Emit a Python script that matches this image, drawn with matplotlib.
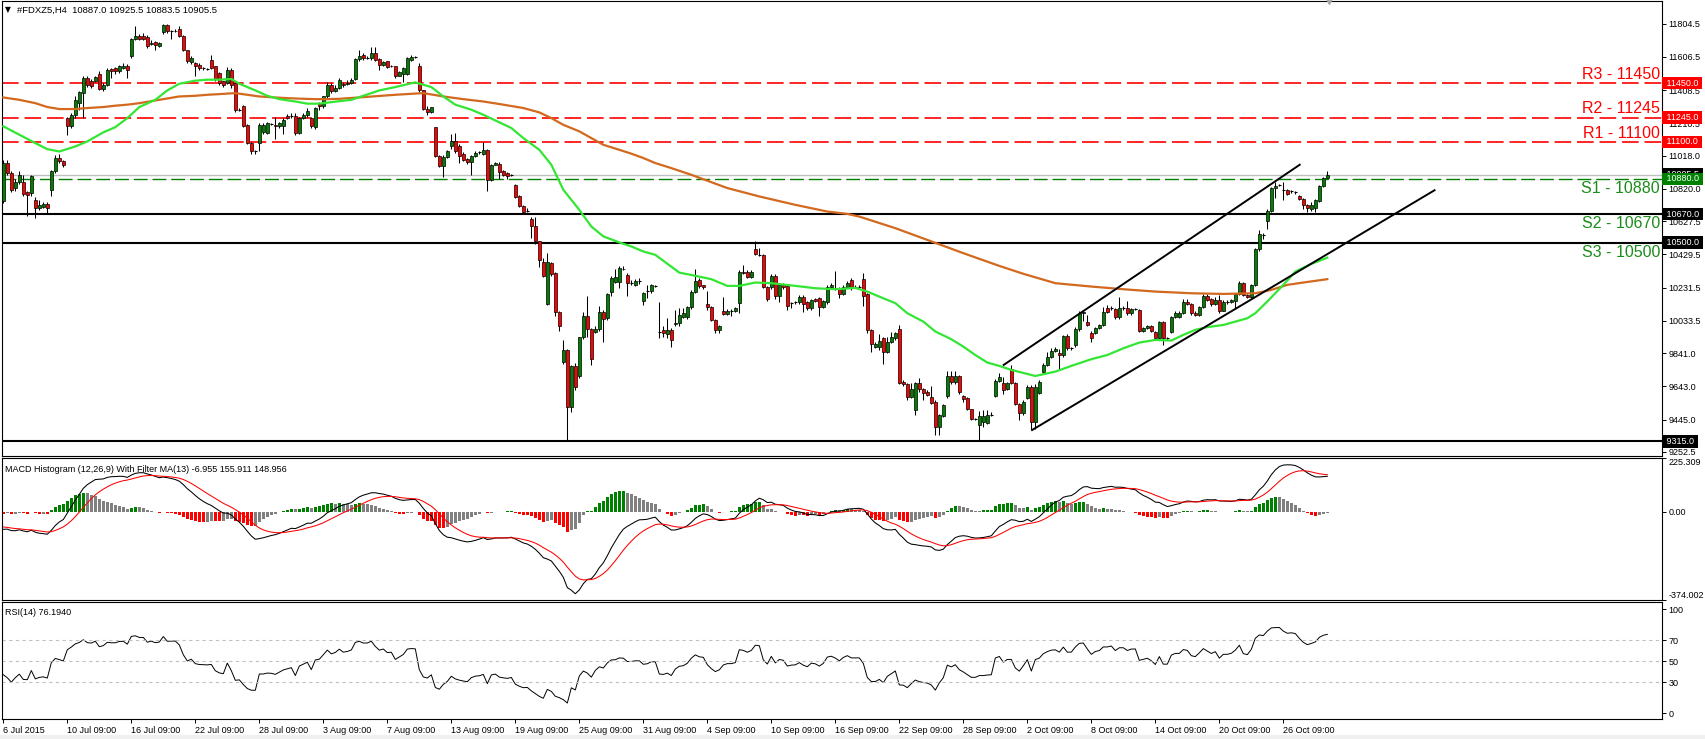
import numpy as np
import matplotlib
matplotlib.use("Agg")
from matplotlib import pyplot as plt
from matplotlib import transforms
from matplotlib.patches import Rectangle

plt.rcParams["font.family"] = ["Liberation Sans", "DejaVu Sans"]

# ---------------- data (4 bars per trading day) ----------------
opens = [
    10745, 10974, 10914, 10825, 10864, 10860, 10799, 10795, 10755, 10705, 10715, 10731,
    10815, 10924, 11003, 10984, 11242, 11192, 11262, 11330, 11390, 11481, 11461, 11461,
    11507, 11415, 11441, 11534, 11540, 11520, 11540, 11554, 11610, 11713, 11729, 11729,
    11725, 11685, 11693, 11674, 11753, 11799, 11763, 11760, 11773, 11733, 11646, 11574,
    11570, 11560, 11540, 11538, 11590, 11550, 11511, 11461, 11451, 11526, 11451, 11290,
    11316, 11203, 11093, 11045, 11093, 11157, 11153, 11210, 11202, 11192, 11192, 11256,
    11250, 11252, 11153, 11242, 11262, 11242, 11189, 11328, 11312, 11371, 11441, 11401,
    11421, 11445, 11448, 11451, 11475, 11594, 11620, 11602, 11600, 11630, 11594, 11560,
    11580, 11554, 11550, 11495, 11507, 11507, 11590, 11606, 11554, 11407, 11296, 11276,
    11189, 11018, 10958, 11010, 11073, 11103, 11073, 11030, 10998, 10978, 11018, 11035,
    11030, 11049, 10874, 10964, 10970, 10924, 10914, 10900, 10845, 10775, 10720, 10688,
    10640, 10600, 10507, 10387, 10135, 10377, 10318, 10085, 9791, 9861, 9519, 9765,
    9702, 9936, 10063, 9984, 9970, 9984, 10089, 10049, 10203, 10268, 10268, 10345,
    10308, 10260, 10248, 10272, 10149, 10207, 10209, 10246, 9972, 9980, 9954, 9980,
    10015, 10019, 10059, 10059, 10119, 10208, 10278, 10248, 10135, 10115, 10039, 9980,
    10093, 10075, 10093, 10091, 10139, 10327, 10327, 10294, 10461, 10429, 10425, 10234,
    10234, 10302, 10183, 10248, 10242, 10137, 10141, 10143, 10178, 10143, 10109, 10163,
    10168, 10115, 10143, 10238, 10230, 10228, 10194, 10238, 10278, 10240, 10236, 10282,
    10194, 9980, 9876, 9876, 9930, 9850, 9910, 9930, 9984, 9672, 9658, 9582,
    9503, 9665, 9626, 9612, 9582, 9552, 9399, 9467, 9586, 9705, 9672, 9705,
    9586, 9572, 9507, 9449, 9413, 9433, 9427, 9473, 9586, 9677, 9662, 9626,
    9745, 9665, 9538, 9483, 9572, 9642, 9433, 9602, 9731, 9771, 9821, 9856,
    9840, 9830, 9944, 9872, 9890, 9984, 10079, 10029, 9960, 9960, 9990, 10009,
    10109, 10107, 10103, 10055, 10107, 10109, 10079, 10103, 10099, 9976, 9990, 10004,
    9970, 9930, 10029, 9932, 9970, 10055, 10059, 10083, 10143, 10135, 10083, 10069,
    10119, 10182, 10163, 10135, 10159, 10095, 10141, 10143, 10149, 10194, 10258, 10188,
    10178, 10248, 10461, 10548, 10626, 10691, 10824, 10842, 10813, 10811, 10803, 10801,
    10779, 10759, 10725, 10699, 10705, 10745, 10838, 10887.0,
]
highs = [
    10994, 10990, 10925, 10880, 10925, 10905, 10810, 10905, 10770, 10755, 10740, 10740,
    10935, 11025, 11030, 10990, 11250, 11275, 11372, 11405, 11490, 11490, 11475, 11495,
    11520, 11450, 11540, 11540, 11545, 11560, 11570, 11565, 11720, 11789, 11745, 11750,
    11735, 11710, 11700, 11695, 11805, 11805, 11770, 11775, 11790, 11740, 11650, 11610,
    11575, 11570, 11545, 11540, 11620, 11555, 11515, 11465, 11545, 11540, 11460, 11300,
    11320, 11205, 11100, 11050, 11210, 11210, 11220, 11215, 11250, 11220, 11240, 11265,
    11270, 11270, 11250, 11275, 11300, 11250, 11310, 11340, 11375, 11460, 11450, 11440,
    11480, 11460, 11470, 11480, 11600, 11650, 11630, 11610, 11665, 11665, 11600, 11580,
    11585, 11560, 11555, 11520, 11545, 11605, 11620, 11615, 11570, 11410, 11315, 11310,
    11190, 11020, 11020, 11050, 11145, 11155, 11085, 11040, 11005, 11025, 11045, 11045,
    11100, 11055, 10970, 10980, 10980, 10930, 10920, 10910, 10850, 10785, 10725, 10705,
    10650, 10650, 10510, 10410, 10440, 10385, 10325, 10090, 9920, 9865, 9770, 9785,
    9940, 10085, 10183, 9990, 10000, 10120, 10100, 10200, 10300, 10345, 10360, 10360,
    10320, 10275, 10285, 10290, 10205, 10250, 10255, 10250, 10145, 10000, 10050, 9990,
    10100, 10109, 10110, 10125, 10215, 10345, 10290, 10250, 10210, 10125, 10045, 10010,
    10175, 10105, 10105, 10115, 10335, 10365, 10335, 10335, 10510, 10470, 10430, 10240,
    10310, 10310, 10255, 10260, 10250, 10145, 10150, 10185, 10190, 10150, 10165, 10170,
    10175, 10155, 10245, 10260, 10330, 10235, 10245, 10270, 10290, 10250, 10245, 10320,
    10200, 9985, 9910, 9955, 9940, 9935, 9965, 9970, 10010, 9680, 9665, 9665,
    9670, 9690, 9635, 9620, 9645, 9560, 9480, 9540, 9735, 9735, 9735, 9710,
    9590, 9580, 9510, 9455, 9495, 9500, 9500, 9490, 9685, 9720, 9700, 9670,
    9770, 9670, 9545, 9560, 9650, 9650, 9655, 9680, 9780, 9845, 9870, 9880,
    9865, 9950, 9955, 9880, 9995, 10090, 10095, 10070, 9975, 9995, 10015, 10115,
    10130, 10120, 10110, 10175, 10120, 10150, 10110, 10110, 10105, 9995, 10010, 10010,
    9975, 10035, 10035, 9940, 10060, 10090, 10095, 10165, 10165, 10140, 10090, 10125,
    10195, 10195, 10170, 10175, 10190, 10160, 10155, 10165, 10200, 10270, 10265, 10195,
    10255, 10470, 10575, 10560, 10700, 10830, 10864, 10850, 10860, 10820, 10815, 10810,
    10785, 10765, 10730, 10740, 10760, 10845, 10890, 10925.5,
]
lows = [
    10735, 10900, 10800, 10810, 10850, 10780, 10660, 10780, 10646, 10695, 10705, 10675,
    10775, 10915, 10975, 10950, 11143, 11185, 11240, 11290, 11245, 11430, 11420, 11455,
    11410, 11405, 11435, 11480, 11505, 11510, 11535, 11480, 11600, 11705, 11705, 11705,
    11660, 11680, 11645, 11665, 11745, 11750, 11715, 11755, 11725, 11640, 11570, 11565,
    11495, 11530, 11530, 11530, 11535, 11465, 11440, 11430, 11445, 11420, 11280, 11285,
    11190, 11085, 11030, 11030, 11043, 11150, 11145, 11200, 11115, 11185, 11150, 11235,
    11245, 11140, 11145, 11235, 11250, 11185, 11180, 11290, 11300, 11360, 11390, 11395,
    11415, 11430, 11440, 11445, 11470, 11585, 11590, 11595, 11590, 11585, 11530, 11555,
    11540, 11545, 11480, 11490, 11455, 11500, 11580, 11600, 11400, 11290, 11258, 11270,
    11010, 10950, 10890, 11005, 11060, 11035, 10975, 10985, 10970, 10905, 11010, 11030,
    11025, 10805, 10870, 10960, 10880, 10895, 10880, 10895, 10765, 10715, 10675, 10680,
    10525, 10490, 10355, 10295, 10130, 10300, 10065, 9975, 9775, 9315, 9490, 9620,
    9690, 9925, 9940, 9770, 9960, 9975, 9910, 10040, 10180, 10260, 10230, 10335,
    10180, 10245, 10240, 10255, 10130, 10170, 10200, 10235, 9930, 9940, 9930, 9880,
    10005, 10000, 10050, 10045, 10105, 10200, 10230, 10225, 10100, 10030, 9960, 9960,
    10070, 10070, 10060, 10085, 10080, 10310, 10290, 10290, 10425, 10420, 10230, 10150,
    10225, 10165, 10145, 10225, 10100, 10110, 10135, 10135, 10085, 10100, 10100, 10145,
    10060, 10110, 10135, 10230, 10220, 10170, 10185, 10230, 10220, 10230, 10230, 10120,
    9960, 9850, 9870, 9860, 9775, 9840, 9900, 9920, 9655, 9645, 9560, 9575,
    9475, 9610, 9560, 9585, 9540, 9355, 9355, 9460, 9575, 9660, 9660, 9600,
    9550, 9500, 9440, 9440, 9315, 9400, 9420, 9465, 9580, 9670, 9600, 9620,
    9655, 9530, 9440, 9475, 9565, 9383, 9390, 9595, 9720, 9765, 9815, 9850,
    9740, 9820, 9860, 9860, 9880, 9975, 10030, 10000, 9905, 9955, 9985, 10000,
    10080, 10100, 10045, 10045, 10100, 10070, 10070, 10100, 9970, 9965, 9985, 9970,
    9920, 9920, 9890, 9920, 9960, 10050, 10050, 10075, 10130, 10070, 10060, 10060,
    10110, 10150, 10125, 10130, 10080, 10090, 10135, 10140, 10109, 10185, 10180, 10170,
    10170, 10240, 10450, 10520, 10580, 10680, 10765, 10835, 10755, 10785, 10795, 10790,
    10755, 10700, 10680, 10690, 10680, 10740, 10830, 10883.5,
]
closes = [
    10974, 10914, 10815, 10864, 10904, 10791, 10785, 10894, 10705, 10725, 10731, 10705,
    10924, 11003, 10984, 10960, 11192, 11262, 11351, 11395, 11481, 11441, 11435, 11487,
    11415, 11441, 11526, 11520, 11520, 11550, 11554, 11526, 11713, 11729, 11713, 11713,
    11670, 11690, 11677, 11689, 11799, 11759, 11762, 11763, 11733, 11646, 11580, 11600,
    11550, 11540, 11538, 11536, 11540, 11475, 11451, 11441, 11526, 11441, 11288, 11292,
    11196, 11093, 11043, 11043, 11202, 11202, 11212, 11208, 11192, 11212, 11232, 11242,
    11252, 11153, 11242, 11262, 11282, 11192, 11302, 11312, 11371, 11441, 11401, 11421,
    11471, 11441, 11451, 11471, 11594, 11614, 11600, 11600, 11630, 11590, 11560, 11574,
    11546, 11550, 11491, 11515, 11540, 11600, 11606, 11604, 11407, 11296, 11276, 11306,
    11018, 10958, 11010, 11043, 11103, 11043, 11014, 10994, 10978, 11018, 11033, 11037,
    11049, 10874, 10964, 10974, 10918, 10904, 10894, 10902, 10771, 10720, 10684, 10686,
    10596, 10507, 10397, 10302, 10387, 10314, 10085, 10000, 9857, 9519, 9765, 9638,
    9936, 10063, 9984, 9805, 9984, 10089, 10044, 10193, 10288, 10294, 10348, 10342,
    10258, 10258, 10274, 10274, 10199, 10209, 10248, 10244, 9970, 9960, 9980, 9920,
    10023, 10069, 10079, 10119, 10208, 10272, 10242, 10234, 10115, 10039, 9980, 10004,
    10075, 10095, 10095, 10109, 10327, 10318, 10294, 10327, 10433, 10427, 10234, 10163,
    10302, 10183, 10248, 10234, 10123, 10139, 10143, 10178, 10135, 10109, 10159, 10149,
    10115, 10149, 10238, 10250, 10228, 10194, 10238, 10262, 10238, 10238, 10238, 10183,
    9980, 9896, 9896, 9916, 9850, 9910, 9936, 9964, 9666, 9658, 9582, 9626,
    9665, 9626, 9606, 9592, 9546, 9399, 9473, 9532, 9705, 9672, 9705, 9612,
    9566, 9507, 9447, 9447, 9467, 9467, 9473, 9475, 9677, 9701, 9622, 9662,
    9662, 9538, 9483, 9552, 9642, 9433, 9642, 9672, 9771, 9821, 9856, 9864,
    9830, 9944, 9870, 9870, 9984, 10079, 10089, 10009, 9930, 9990, 10009, 10089,
    10089, 10109, 10055, 10109, 10109, 10079, 10103, 10105, 9976, 9990, 10004, 9976,
    9930, 10029, 9930, 9930, 10055, 10083, 10083, 10143, 10135, 10079, 10069, 10119,
    10182, 10159, 10135, 10159, 10095, 10143, 10143, 10155, 10194, 10262, 10188, 10178,
    10248, 10461, 10552, 10546, 10691, 10824, 10838, 10844, 10811, 10791, 10805, 10799,
    10759, 10725, 10705, 10725, 10751, 10838, 10884, 10905.5,
]

date_labels = ["6 Jul 2015", "10 Jul 09:00", "16 Jul 09:00", "22 Jul 09:00", "28 Jul 09:00",
               "3 Aug 09:00", "7 Aug 09:00", "13 Aug 09:00", "19 Aug 09:00", "25 Aug 09:00",
               "31 Aug 09:00", "4 Sep 09:00", "10 Sep 09:00", "16 Sep 09:00", "22 Sep 09:00",
               "28 Sep 09:00", "2 Oct 09:00", "8 Oct 09:00", "14 Oct 09:00", "20 Oct 09:00",
               "26 Oct 09:00"]
bars_per_label = 16

# moving averages, sampled along the lines (bar index, value)
ma_fast_bar = [0, 4, 8, 11, 14, 18, 21, 25, 28, 31, 34, 38, 41, 44, 48, 51, 54, 57, 59, 63, 66, 69,
               73, 76, 79, 83, 87, 90, 94, 98, 103, 107, 110, 113, 117, 120, 123, 127, 130, 134,
               137, 140, 144, 147, 150, 154, 157, 160, 163, 169, 172, 177, 181, 184, 188, 192,
               198, 203, 208, 213, 216, 220, 223, 226, 230, 233, 237, 240, 243, 246, 249, 252,
               258, 263, 267, 272, 276, 280, 284, 288, 292, 295, 298, 301, 305, 308, 311, 313,
               316, 320, 323, 327, 331]
ma_fast_val = [11193, 11143, 11093, 11057, 11043, 11073, 11103, 11157, 11188, 11242, 11308, 11351,
               11407, 11447, 11465, 11471, 11471, 11475, 11447, 11407, 11375, 11355, 11341, 11328,
               11328, 11340, 11351, 11375, 11407, 11427, 11455, 11427, 11371, 11322, 11292, 11262,
               11228, 11183, 11123, 11053, 10964, 10815, 10695, 10596, 10537, 10501, 10477, 10447,
               10427, 10321, 10307, 10282, 10242, 10242, 10262, 10258, 10242, 10228, 10222, 10230,
               10208, 10168, 10139, 10079, 10029, 9970, 9924, 9880, 9830, 9785, 9765, 9741,
               9705, 9731, 9765, 9805, 9830, 9870, 9904, 9920, 9916, 9950, 9980, 9996, 10009,
               10029, 10049, 10079, 10149, 10248, 10327, 10373, 10410]
ma_slow_bar = [0, 4, 8, 11, 14, 18, 21, 25, 28, 31, 34, 38, 41, 44, 48, 51, 54, 58, 61, 64, 68, 71,
               74, 78, 81, 84, 90, 98, 105, 110, 115, 120, 125, 130, 134, 137, 140, 144, 147,
               150, 154, 157, 160, 163, 167, 172, 181, 189, 198, 206, 211, 214, 223, 231, 240,
               249, 255, 263, 272, 280, 288, 297, 305, 313, 317, 321, 325, 331]
ma_slow_val = [11365, 11351, 11331, 11308, 11296, 11296, 11302, 11308, 11316, 11322, 11331, 11347,
               11359, 11371, 11375, 11381, 11385, 11391, 11381, 11371, 11365, 11361, 11358, 11355,
               11355, 11357, 11367, 11381, 11391, 11371, 11355, 11341, 11322, 11302, 11276, 11242,
               11202, 11163, 11123, 11083, 11053, 11030, 11004, 10974, 10944, 10904, 10825, 10775,
               10725, 10685, 10671, 10655, 10586, 10516, 10437, 10361, 10314, 10258, 10238, 10222,
               10208, 10198, 10194, 10198, 10218, 10248, 10262, 10282]

resist_names = ["R3", "R2", "R1"]
resist_levels = [11450, 11245, 11100]
support_names = ["S1", "S2", "S3"]
support_levels = [10880, 10670, 10500]
floor_level = 9315

channel_upper_bar = [250.1, 324.1]
channel_upper_val = [9771, 10964]
channel_lower_bar = [257.2, 357.8]
channel_lower_val = [9383, 10812]

price_ticks = [11804.5, 11606.5, 11408.5, 11210.5, 11018.0, 10820.0, 10627.5, 10429.5,
               10231.5, 10033.5, 9841.0, 9643.0, 9445.0, 9252.5]
macd_range = (-374.002, 225.309)
macd_seed, signal_seed = -75.0, -65.0
rsi_seed_gain, rsi_seed_loss = 20.0, 34.0

# ---------------- indicators from the closes ----------------
c = np.array(closes, dtype=float)
o = np.array(opens, dtype=float)
h = np.array(highs, dtype=float)
l = np.array(lows, dtype=float)
x = np.arange(len(c))

ema_f = np.empty_like(c)
ema_s = np.empty_like(c)
ema_f[0], ema_s[0] = c[0], c[0] - macd_seed
for t in range(1, len(c)):
    ema_f[t] = ema_f[t - 1] + 2 / 13 * (c[t] - ema_f[t - 1])
    ema_s[t] = ema_s[t - 1] + 2 / 27 * (c[t] - ema_s[t - 1])
macd = ema_f - ema_s
sig = np.empty_like(c)
sig[0] = signal_seed
for t in range(1, len(c)):
    sig[t] = sig[t - 1] + 2 / 10 * (macd[t] - sig[t - 1])
hist = macd - sig

hist_colors = []
for t in range(len(c)):
    prev = hist[t - 1] if t > 0 else hist[t]
    if hist[t] > 0 and hist[t] >= prev:
        hist_colors.append("#008000")
    elif hist[t] < 0 and hist[t] <= prev:
        hist_colors.append("#ff0000")
    else:
        hist_colors.append("#808080")

rsi = np.empty_like(c)
ag, al = rsi_seed_gain, rsi_seed_loss
rsi[0] = 100 - 100 / (1 + ag / al)
for t in range(1, len(c)):
    d = c[t] - c[t - 1]
    ag = (ag * 13 + max(d, 0)) / 14
    al = (al * 13 + max(-d, 0)) / 14
    rsi[t] = 100 - 100 / (1 + ag / al)

# ---------------- figure layout (pixel boxes) ----------------
W, H = 1706, 739
fig = plt.figure(figsize=(W / 100, H / 100), dpi=100)
fig.patch.set_facecolor("white")


def px_box(x0, y0, x1, y1):
    return [x0 / W, 1 - y1 / H, (x1 - x0) / W, (y1 - y0) / H]


ax = fig.add_axes(px_box(2, 1.5, 1662, 456))
axm = fig.add_axes(px_box(2, 458.3, 1662, 600))
axr = fig.add_axes(px_box(2, 602.3, 1662, 719.3))
fig.patches.append(Rectangle((0, 0), 1, 4 / H, transform=fig.transFigure,
                             color="#f0f0f0", zorder=0))

xlim = (-0.33, 414.67)
for a in (ax, axm, axr):
    a.set_xlim(*xlim)
    for s in a.spines.values():
        s.set_linewidth(0.8)
        s.set_color("black")
    a.yaxis.tick_right()
    a.tick_params(axis="y", length=3, width=0.7, labelsize=6.5, pad=1.5, colors="black")
ax.set_xticks([])
axm.set_xticks([])

# ---------------- main price panel ----------------
ax.set_ylim(9228, 11937)
ax.set_yticks(price_ticks)
ax.set_yticklabels([f"{v:.1f}" for v in price_ticks])

ax.vlines(x, l, h, color="black", lw=0.75, zorder=3)
up = c > o + 2
dn = c < o - 2
flat = ~(up | dn)
ax.bar(x[up], c[up] - o[up], bottom=o[up], width=0.72, color="#008000",
       edgecolor="black", linewidth=0.5, zorder=4)
ax.bar(x[dn], o[dn] - c[dn], bottom=c[dn], width=0.72, color="#ff0000",
       edgecolor="black", linewidth=0.5, zorder=4)
ax.hlines(c[flat], x[flat] - 0.45, x[flat] + 0.45, color="black", lw=0.8, zorder=4)

ax.plot(ma_slow_bar, ma_slow_val, color="#d2691e", lw=1.6, zorder=5)
ax.plot(ma_fast_bar, ma_fast_val, color="#33e633", lw=1.6, zorder=5)

dash = (0, (10, 3.5))
for v in resist_levels:
    ax.axhline(v, color="#ff0000", lw=1.2, ls=dash, zorder=2)
ax.axhline(closes[-1], color="#c0c0c0", lw=1.0, zorder=2)
ax.axhline(support_levels[0], color="#008000", lw=1.0, ls=dash, zorder=2)
for v in support_levels[1:] + [floor_level]:
    ax.axhline(v, color="black", lw=1.5, zorder=2)

ax.plot(channel_upper_bar, channel_upper_val, color="black", lw=1.4, zorder=6)
ax.plot(channel_lower_bar, channel_lower_val, color="black", lw=1.4, zorder=6)

trans = transforms.blended_transform_factory(ax.transAxes, ax.transData)
for name, v in zip(resist_names, resist_levels):
    ax.annotate(f"{name} - {v}", xy=(0.9988, v), xycoords=trans, xytext=(0, 3),
                textcoords="offset points", ha="right", va="baseline",
                color="#ff0000", fontsize=11.5, zorder=7)
for name, v in zip(support_names, support_levels):
    ax.annotate(f"{name} - {v}", xy=(0.9988, v), xycoords=trans, xytext=(0, -1.5),
                textcoords="offset points", ha="right", va="top",
                color="#1a8c1a", fontsize=11.5, zorder=7)


def price_box(v, fc, z=10):
    ax.text(1.0012, v, f" {v:.1f} ", transform=trans, color="white", fontsize=6.5,
            va="center", ha="left", clip_on=False, zorder=z,
            bbox=dict(boxstyle="square,pad=0.18", fc=fc, ec="none"))


for v in resist_levels:
    price_box(v, "#ff0000")
price_box(closes[-1], "black", z=9)
price_box(support_levels[0], "#008000", z=11)
for v in support_levels[1:] + [floor_level]:
    price_box(v, "black")

fig.text(5 / W, 1 - 10 / H, "\u25bc", fontsize=5.5, family="DejaVu Sans", va="center")
fig.text(17 / W, 1 - 10 / H,
         f"#FDXZ5,H4  {opens[-1]:.1f} {highs[-1]:.1f} {lows[-1]:.1f} {closes[-1]:.1f}",
         fontsize=6.8, va="center")
ax.plot([len(c) - 0.5], [11937], marker="v", color="#a8a8a8", ms=5, clip_on=False, zorder=8)

# ---------------- MACD panel ----------------
axm.bar(x, hist, width=0.75, color=hist_colors, linewidth=0)
axm.plot(x, macd, color="black", lw=0.75)
axm.plot(x, sig, color="#ff0000", lw=0.75)
axm.set_ylim(*macd_range)
axm.set_yticks([macd_range[0], 0.0, macd_range[1]])
axm.set_yticklabels([f"{macd_range[0]:.3f}", "0.00", f"{macd_range[1]:.3f}"])
lbl = axm.get_yticklabels()
lbl[0].set_verticalalignment("bottom")
lbl[2].set_verticalalignment("top")
axm.text(0.002, 0.955, "MACD Histogram (12,26,9) With Filter MA(13) -6.955 155.911 148.956",
         transform=axm.transAxes, fontsize=6.5, va="top", ha="left")

# ---------------- RSI panel ----------------
axr.plot(x, rsi, color="black", lw=0.7)
for v in (70, 50, 30):
    axr.axhline(v, color="#c0c0c0", lw=0.8, ls=(0, (3, 3)))
axr.set_ylim(-5.8, 106.7)
axr.set_yticks([0, 30, 50, 70, 100])
axr.set_yticklabels(["0", "30", "50", "70", "100"])
axr.text(0.002, 0.95, "RSI(14) 76.1940", transform=axr.transAxes, fontsize=6.5,
         va="top", ha="left")

tick_pos = np.arange(len(date_labels)) * bars_per_label
axr.set_xticks(tick_pos)
axr.set_xticklabels(date_labels)
axr.tick_params(axis="x", length=3, width=0.7, labelsize=6.5, pad=2)
for t in axr.get_xticklabels():
    t.set_horizontalalignment("left")

fig.savefig("out.png", dpi=100)
